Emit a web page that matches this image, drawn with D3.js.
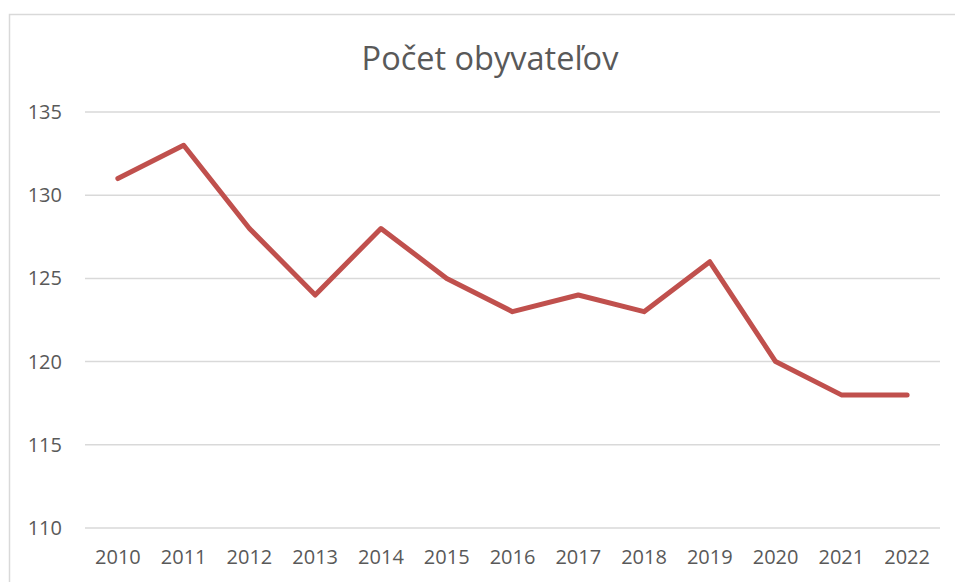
<!DOCTYPE html>
<html>
<head>
<meta charset="utf-8">
<script src="https://cdn.jsdelivr.net/npm/d3@7"></script>
<style>
  body { margin: 0; background: #fff; }
  svg { display: block; }
  text { font-family: "Open Sans", sans-serif; fill: #595959; }
</style>
</head>
<body>
<svg id="chart" width="955" height="582"></svg>
<script>
const years = ["2010", "2011", "2012", "2013", "2014", "2015", "2016",
               "2017", "2018", "2019", "2020", "2021", "2022"];
const population = [131, 133, 128, 124, 128, 125, 123, 124, 123, 126, 120, 118, 118];
const yTicks = [110, 115, 120, 125, 130, 135];
const title = "Počet obyvateľov";

const svg = d3.select("#chart");
const width = 955, height = 582;

// chart frame
svg.append("rect")
    .attr("x", 9.5).attr("y", 14.5)
    .attr("width", width).attr("height", height)
    .attr("fill", "none")
    .attr("stroke", "#d9d9d9")
    .attr("stroke-width", 1.5);

const x = d3.scaleBand().domain(years).range([85, 940]);
const y = d3.scaleLinear().domain([110, 135]).range([528, 112]);

// gridlines
svg.append("g")
    .selectAll("line")
    .data(yTicks)
    .join("line")
    .attr("x1", 85).attr("x2", 940)
    .attr("y1", d => y(d)).attr("y2", d => y(d))
    .attr("stroke", "#d9d9d9")
    .attr("stroke-width", 1.5);

// y axis labels
const yAxis = svg.append("g")
    .attr("transform", "translate(85,0)")
    .call(d3.axisLeft(y).tickValues(yTicks).tickSize(0).tickPadding(23));
yAxis.select(".domain").remove();
yAxis.selectAll("text")
    .style("font-family", '"Open Sans", sans-serif')
    .style("font-size", "20px")
    .attr("fill", "#595959");

// x axis labels
const xAxis = svg.append("g")
    .attr("transform", "translate(0,528)")
    .call(d3.axisBottom(x).tickSize(0).tickPadding(22));
xAxis.select(".domain").remove();
xAxis.selectAll("text")
    .style("font-family", '"Open Sans", sans-serif')
    .style("font-size", "20px")
    .attr("fill", "#595959");

// line
const line = d3.line()
    .x((d, i) => x(years[i]) + x.bandwidth() / 2)
    .y(d => y(d));

svg.append("path")
    .datum(population)
    .attr("d", line)
    .attr("fill", "none")
    .attr("stroke", "#c0504d")
    .attr("stroke-width", 5)
    .attr("stroke-linejoin", "round")
    .attr("stroke-linecap", "round");

// title
svg.append("text")
    .attr("x", 490).attr("y", 70)
    .attr("text-anchor", "middle")
    .style("font-size", "32.5px")
    .text(title);
</script>
</body>
</html>
